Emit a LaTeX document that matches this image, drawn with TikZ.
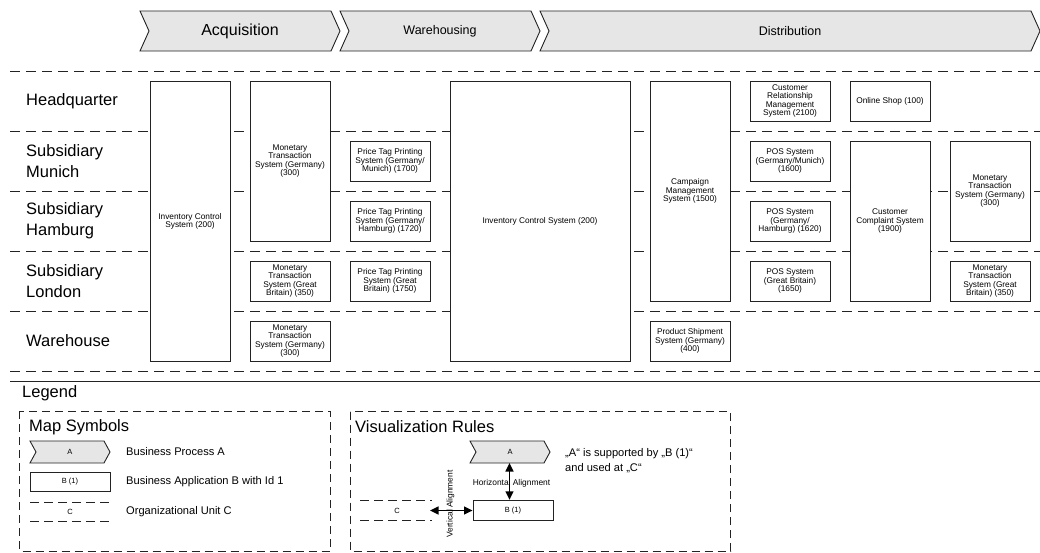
\documentclass[tikz,border=0pt]{standalone}
\usepackage{fontspec}
\setmainfont{Liberation Sans}
\usetikzlibrary{arrows.meta}
\definecolor{procfill}{RGB}{230,230,230}
\definecolor{ink}{RGB}{35,35,35}
\tikzset{
  app/.style={draw=ink, line width=0.9pt, fill=white, align=center, inner sep=1pt,
    font=\fontsize{8.3}{8.3}\selectfont},
  orgline/.style={draw=ink, line width=0.9pt, dash pattern=on 10pt off 6pt},
  proc/.style={draw=ink, line width=0.9pt, fill=procfill},
  rowlabel/.style={anchor=west, align=left, inner sep=0pt, font=\fontsize{16.5}{21}\selectfont},
  bigtitle/.style={anchor=west, inner sep=0pt, font=\fontsize{16.5}{20}\selectfont},
  legtext/.style={anchor=west, align=left, inner sep=0pt, font=\fontsize{11.1}{15}\selectfont},
  legbox/.style={draw=ink, line width=0.9pt, dash pattern=on 8pt off 5pt},
  legline/.style={draw=ink, line width=0.9pt, dash pattern=on 9pt off 5pt},
  tiny/.style={inner sep=0pt, font=\fontsize{7.5}{8}\selectfont},
  small/.style={inner sep=0pt, align=center, font=\fontsize{8.4}{9}\selectfont},
  dblarrow/.style={draw=black, line width=1.4pt,
    {Triangle[length=8.5pt,width=8pt]}-{Triangle[length=8.5pt,width=8pt]}},
}
\newcommand{\chev}[5]{%
  \draw[proc] (#1,#3) -- ({#2-#5},#3) -- (#2,{(#3+#4)/2}) -- ({#2-#5},#4)
    -- (#1,#4) -- ({#1+#5},{(#3+#4)/2}) -- cycle;}
\begin{document}
\begin{tikzpicture}[x=1pt,y=-1pt]
\useasboundingbox (0,0) rectangle (1040,552);

% process chevrons
\chev{140}{340}{11}{51}{9}
\chev{340}{540}{11}{51}{9}
\chev{540}{1040}{11}{51}{9}
\node[inner sep=0pt, font=\fontsize{16}{18}\selectfont] (pacq) at (240,31) {Acquisition};
\node[inner sep=0pt, font=\fontsize{12.5}{14}\selectfont] (pware) at (440,31) {Warehousing};
\node[inner sep=0pt, font=\fontsize{12.5}{14}\selectfont] (pdist) at (790,31) {Distribution};

% organizational unit lines
\foreach \yy in {71,131,191,251,311,371} {
  \draw[orgline] (10,\yy) -- (1040,\yy);
}
\draw[draw=ink, line width=0.9pt] (10,381.5) -- (1040,381.5);

% row labels
\node[rowlabel] (hq) at (26,101) {Headquarter};
\node[rowlabel] (mun) at (26,161) {Subsidiary\\Munich};
\node[rowlabel] (ham) at (26,221) {Subsidiary\\Hamburg};
\node[rowlabel] (lon) at (26,281) {Subsidiary\\London};
\node[rowlabel] (wh) at (26,341) {Warehouse};

% applications
\node[app, minimum width=80pt, minimum height=280pt] (inv1) at (190,221) {Inventory Control\\System (200)};
\node[app, minimum width=80pt, minimum height=160pt] (mon1) at (290,161) {Monetary\\Transaction\\System (Germany)\\(300)};
\node[app, minimum width=80pt, minimum height=40pt] (pt1) at (390,161) {Price Tag Printing\\System (Germany/\\Munich) (1700)};
\node[app, minimum width=80pt, minimum height=40pt] (pt2) at (390,221) {Price Tag Printing\\System (Germany/\\Hamburg) (1720)};
\node[app, minimum width=80pt, minimum height=40pt] (mon2) at (290,281) {Monetary\\Transaction\\System (Great\\Britain) (350)};
\node[app, minimum width=80pt, minimum height=40pt] (pt3) at (390,281) {Price Tag Printing\\System (Great\\Britain) (1750)};
\node[app, minimum width=80pt, minimum height=40pt] (mon3) at (290,341) {Monetary\\Transaction\\System (Germany)\\(300)};
\node[app, minimum width=180pt, minimum height=280pt] (inv2) at (540,221) {Inventory Control System (200)};
\node[app, minimum width=80pt, minimum height=220pt] (camp) at (690,191) {Campaign\\Management\\System (1500)};
\node[app, minimum width=80pt, minimum height=40pt] (ship) at (690,341) {Product Shipment\\System (Germany)\\(400)};
\node[app, minimum width=80pt, minimum height=40pt] (crm) at (790,101) {Customer\\Relationship\\Management\\System (2100)};
\node[app, minimum width=80pt, minimum height=40pt] (shop) at (890,101) {Online Shop (100)};
\node[app, minimum width=80pt, minimum height=40pt] (pos1) at (790,161) {POS System\\(Germany/Munich)\\(1600)};
\node[app, minimum width=80pt, minimum height=40pt] (pos2) at (790,221) {POS System\\(Germany/\\Hamburg) (1620)};
\node[app, minimum width=80pt, minimum height=40pt] (pos3) at (790,281) {POS System\\(Great Britain)\\(1650)};
\node[app, minimum width=80pt, minimum height=160pt] (compl) at (890,221) {Customer\\Complaint System\\(1900)};
\node[app, minimum width=80pt, minimum height=100pt] (mon4) at (990,191) {Monetary\\Transaction\\System (Germany)\\(300)};
\node[app, minimum width=80pt, minimum height=40pt] (mon5) at (990,281) {Monetary\\Transaction\\System (Great\\Britain) (350)};

% legend
\node[bigtitle] (legend) at (22,393) {Legend};
\draw[legbox] (19.5,411) rectangle (330,551);
\draw[legbox] (350,411.5) rectangle (730.5,551);
\node[bigtitle] (mapsym) at (29,427) {Map Symbols};
\node[bigtitle] (visrules) at (355,427) {Visualization Rules};

% map symbols
\chev{30}{110}{441}{463}{6}
\node[tiny] (lA) at (70,452) {A};
\node[legtext] (lAt) at (126,452) {Business Process A};
\node[app, minimum width=80pt, minimum height=19pt, font=\fontsize{7.5}{8}\selectfont] (lB) at (70,481.5) {B (1)};
\node[legtext] (lBt) at (126,481.5) {Business Application B with Id 1};
\draw[legline] (30,502) -- (110,502);
\draw[legline] (30,521) -- (110,521);
\node[tiny] (lC) at (70,511.5) {C};
\node[legtext] (lCt) at (126,511.5) {Organizational Unit C};

% visualization rules
\chev{470}{550}{441}{463}{6}
\node[tiny] (vA) at (510,452) {A};
\coordinate (vAbot) at (509.5,463);
\node[app, minimum width=80pt, minimum height=20.5pt, font=\fontsize{7.5}{8}\selectfont] (vB) at (513,510.5) {B (1)};
\draw[legline] (360,500.5) -- (432,500.5);
\draw[legline] (360,520.5) -- (432,520.5);
\node[tiny] (vC) at (397,510.5) {C};
\coordinate (vCend) at (430,510.5);
\node[small] (halign) at (511.5,483.5) {Horizontal Alignment};
\node[small, rotate=90] (valign) at (450.5,504) {Vertical Alignment};
\draw[dblarrow] (vAbot) -- (vAbot |- vB.north);
\draw[dblarrow] (vCend) -- (vB.west);
\node[legtext] (stmt) at (565,460.5) {„A“ is supported by „B (1)“\\and used at „C“};
\end{tikzpicture}
\end{document}
